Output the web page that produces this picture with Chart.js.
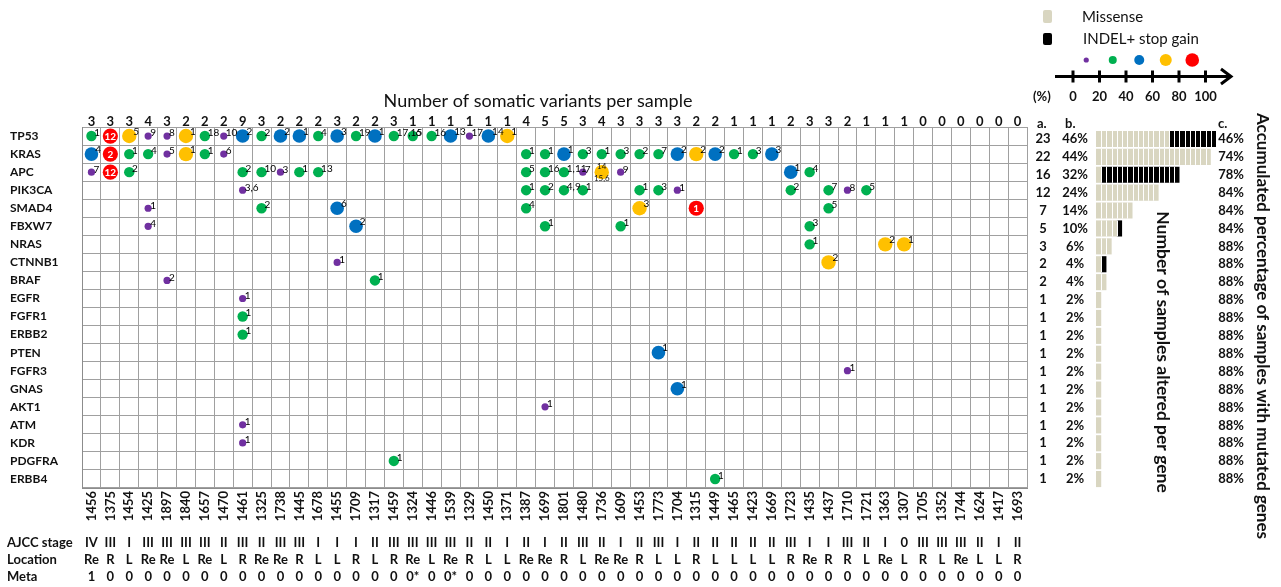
<!DOCTYPE html>
<html>
<head>
<meta charset="utf-8">
<title>Somatic variants per sample</title>
<script src="https://cdn.jsdelivr.net/npm/chart.js@4.4.1/dist/chart.umd.min.js"></script>
<style>
  html, body { margin: 0; padding: 0; background: #fff; }
  #wrap { position: relative; width: 1281px; height: 587px; }
  #wrap canvas { position: absolute; left: 0; top: 0; }
</style>
</head>
<body>
<div id="wrap">
  <canvas id="grid" width="1281" height="587"></canvas>
  <canvas id="bars" width="1281" height="587"></canvas>
</div>
<script>
const FONT = 'Lato, "Open Sans", sans-serif';

const genes = ['TP53', 'KRAS', 'APC', 'PIK3CA', 'SMAD4', 'FBXW7', 'NRAS', 'CTNNB1', 'BRAF', 'EGFR',
  'FGFR1', 'ERBB2', 'PTEN', 'FGFR3', 'GNAS', 'AKT1', 'ATM', 'KDR', 'PDGFRA', 'ERBB4'];

const samples = ['1456', '1375', '1454', '1425', '1897', '1840', '1657', '1470', '1461', '1325',
  '1738', '1445', '1678', '1455', '1709', '1317', '1459', '1324', '1446', '1539',
  '1329', '1450', '1371', '1387', '1699', '1801', '1480', '1736', '1609', '1453',
  '1773', '1704', '1315', '1449', '1465', '1423', '1669', '1723', '1435', '1437',
  '1710', '1721', '1363', '1307', '1705', '1352', '1744', '1624', '1417', '1693'];

const variantsPerSample = [3, 3, 3, 4, 3, 2, 2, 2, 9, 3, 2, 2, 2, 3, 2, 2, 3, 1, 1, 1,
  1, 1, 1, 4, 5, 5, 3, 4, 3, 3, 3, 3, 2, 2, 1, 1, 1, 2, 3, 3, 2, 1, 1, 1, 0, 0, 0, 0, 0, 0];

// a. / b. / c. columns
const samplesAltered = [23, 22, 16, 12, 7, 5, 3, 2, 2, 1, 1, 1, 1, 1, 1, 1, 1, 1, 1, 1];
const pctAltered = [46, 44, 32, 24, 14, 10, 6, 4, 4, 2, 2, 2, 2, 2, 2, 2, 2, 2, 2, 2];
const accumulatedPct = [46, 74, 78, 84, 84, 84, 88, 88, 88, 88, 88, 88, 88, 88, 88, 88, 88, 88, 88, 88];

// bar blocks per gene
const missense = [14, 22, 1, 12, 7, 4, 3, 1, 2, 1, 1, 1, 1, 1, 1, 1, 1, 1, 1, 1];
const indelStop = [9, 0, 15, 0, 0, 1, 0, 1, 0, 0, 0, 0, 0, 0, 0, 0, 0, 0, 0, 0];

const ajccStage = ['IV', 'III', 'I', 'III', 'III', 'III', 'III', 'II', 'III', 'II',
  'III', 'III', 'I', 'I', 'I', 'II', 'III', 'III', 'III', 'III',
  'II', 'II', 'I', 'II', 'I', 'II', 'III', 'II', 'I', 'II',
  'III', 'I', 'II', 'II', 'II', 'II', 'II', 'III', 'I', 'I',
  'III', 'II', 'I', '0', 'III', 'III', 'III', 'II', 'I', 'II'];
const tumourLocation = ['Re', 'R', 'L', 'Re', 'Re', 'L', 'Re', 'L', 'R', 'Re',
  'Re', 'R', 'L', 'L', 'R', 'L', 'R', 'Re', 'L', 'Re',
  'R', 'L', 'L', 'Re', 'Re', 'R', 'L', 'Re', 'Re', 'R',
  'L', 'L', 'R', 'L', 'L', 'L', 'L', 'R', 'Re', 'R',
  'R', 'L', 'Re', 'L', 'R', 'L', 'Re', 'L', 'L', 'R'];
const metastasis = ['1', '0', '0', '0', '0', '0', '0', '0', '0', '0',
  '0', '0', '0', '0', '0', '0', '0', '0*', '0', '0*',
  '0', '0', '0', '0', '0', '0', '0', '0', '0', '0',
  '0', '0', '0', '0', '0', '0', '0', '0', '0', '0',
  '0', '0', '0', '0', '0', '0', '0', '0', '0', '0'];

const vafTicks = ['0', '20', '40', '60', '80', '100'];

// variants per VAF class: [sample, gene, label]
const vaf0to20 = [
  ['1425', 'TP53', '9'], ['1897', 'TP53', '8'], ['1470', 'TP53', '10'], ['1329', 'TP53', '17'],
  ['1897', 'KRAS', '5'], ['1470', 'KRAS', '6'],
  ['1456', 'APC', '7'], ['1738', 'APC', '3'], ['1480', 'APC', '7'], ['1609', 'APC', '9'],
  ['1461', 'PIK3CA', '3,6'], ['1704', 'PIK3CA', '1'], ['1710', 'PIK3CA', '8'],
  ['1425', 'SMAD4', '1'], ['1425', 'FBXW7', '4'], ['1455', 'CTNNB1', '1'], ['1897', 'BRAF', '2'],
  ['1461', 'EGFR', '1'], ['1461', 'ATM', '1'], ['1461', 'KDR', '1'], ['1710', 'FGFR3', '1'],
  ['1699', 'AKT1', '1']
];
const vaf20to40 = [
  ['1456', 'TP53', '1'], ['1657', 'TP53', '18'], ['1325', 'TP53', '2'], ['1678', 'TP53', '4'],
  ['1709', 'TP53', '19'], ['1459', 'TP53', '17,15'], ['1324', 'TP53', '6'], ['1446', 'TP53', '16'],
  ['1454', 'KRAS', '1'], ['1425', 'KRAS', '4'], ['1657', 'KRAS', '1'], ['1387', 'KRAS', '1'],
  ['1699', 'KRAS', '1'], ['1480', 'KRAS', '3'], ['1736', 'KRAS', '1'], ['1609', 'KRAS', '3'],
  ['1453', 'KRAS', '2'], ['1773', 'KRAS', '7'], ['1465', 'KRAS', '1'], ['1423', 'KRAS', '3'],
  ['1454', 'APC', '2'], ['1461', 'APC', '2'], ['1325', 'APC', '10'], ['1445', 'APC', '1'],
  ['1678', 'APC', '13'], ['1387', 'APC', '5'], ['1699', 'APC', '16'], ['1801', 'APC', '1,11'],
  ['1435', 'APC', '4'],
  ['1387', 'PIK3CA', '1'], ['1699', 'PIK3CA', '2'], ['1801', 'PIK3CA', '4,9'], ['1480', 'PIK3CA', '1'],
  ['1453', 'PIK3CA', '1'], ['1773', 'PIK3CA', '3'], ['1723', 'PIK3CA', '2'], ['1437', 'PIK3CA', '7'],
  ['1721', 'PIK3CA', '5'],
  ['1325', 'SMAD4', '2'], ['1387', 'SMAD4', '4'], ['1437', 'SMAD4', '5'],
  ['1699', 'FBXW7', '1'], ['1609', 'FBXW7', '1'], ['1435', 'FBXW7', '3'],
  ['1435', 'NRAS', '1'], ['1317', 'BRAF', '1'], ['1461', 'FGFR1', '1'], ['1461', 'ERBB2', '1'],
  ['1459', 'PDGFRA', '1'], ['1449', 'ERBB4', '1']
];
const vaf40to60 = [
  ['1461', 'TP53', '2'], ['1738', 'TP53', '2'], ['1445', 'TP53', '1'], ['1455', 'TP53', '3'],
  ['1317', 'TP53', '1'], ['1539', 'TP53', '13'], ['1450', 'TP53', '14'],
  ['1456', 'KRAS', '4'], ['1801', 'KRAS', '1'], ['1704', 'KRAS', '2'], ['1449', 'KRAS', '2'],
  ['1669', 'KRAS', '3'],
  ['1723', 'APC', '1'], ['1455', 'SMAD4', '6'], ['1709', 'FBXW7', '2'],
  ['1773', 'PTEN', '1'], ['1704', 'GNAS', '1']
];
const vaf60to80 = [
  ['1454', 'TP53', '5'], ['1840', 'TP53', '1'], ['1371', 'TP53', '1'],
  ['1840', 'KRAS', '1'], ['1315', 'KRAS', '2'],
  ['1736', 'APC', '14/15,6'], ['1453', 'SMAD4', '3'],
  ['1363', 'NRAS', '2'], ['1307', 'NRAS', '1'], ['1437', 'CTNNB1', '2']
];
const vaf80to100 = [
  ['1375', 'TP53', '12'], ['1375', 'KRAS', '2'], ['1375', 'APC', '12'], ['1315', 'SMAD4', '1']
];

const PURPLE = '#7030a0', GREEN = '#00b050', BLUE = '#0070c0', YELLOW = '#ffc000', RED = '#ff0000';
const BEIGE = '#d9d6c1';
const GRID = '#a0a0a0';

function toPoints(list) {
  return list.map(([s, g, n]) => ({ x: s, y: g, n }));
}

function makeSet(label, list, color, radius, inside) {
  return {
    label,
    data: toPoints(list),
    pointRadius: radius,
    pointHoverRadius: radius,
    pointBackgroundColor: color,
    pointBorderWidth: 0,
    inside: !!inside,
  };
}

// numbers next to / inside the dots
const dotLabels = {
  id: 'dotLabels',
  afterDatasetsDraw(chart) {
    const ctx = chart.ctx;
    chart.data.datasets.forEach((ds, i) => {
      const r = ds.pointRadius;
      chart.getDatasetMeta(i).data.forEach((pt, j) => {
        const txt = ds.data[j].n;
        ctx.save();
        ctx.textBaseline = 'middle';
        if (ds.inside) {
          ctx.fillStyle = '#fff';
          ctx.font = `bold 10px ${FONT}`;
          ctx.textAlign = 'center';
          ctx.fillText(txt, pt.x, pt.y + 0.5);
        } else if (txt.indexOf('/') >= 0) {
          const parts = txt.split('/');
          ctx.fillStyle = '#111';
          ctx.font = `8px ${FONT}`;
          ctx.textAlign = 'center';
          ctx.fillText(parts[0], pt.x, pt.y - 5.5);
          ctx.fillText(parts[1], pt.x, pt.y + 6.5);
        } else {
          ctx.fillStyle = '#000';
          ctx.font = `10px ${FONT}`;
          ctx.textAlign = 'left';
          ctx.fillText(txt, pt.x + r * 0.55, pt.y - r * 0.5 - 1);
        }
        ctx.restore();
      });
    });
  }
};

// title, sample table, legend
const decor = {
  id: 'decor',
  afterDraw(chart) {
    const ctx = chart.ctx;
    const x = chart.scales.x;
    ctx.save();
    ctx.fillStyle = '#111';
    ctx.textBaseline = 'middle';

    ctx.font = `18px ${FONT}`;
    ctx.textAlign = 'center';
    ctx.fillText('Number of somatic variants per sample', 538, 101);

    const rows = [['AJCC stage', ajccStage, 543], ['Location', tumourLocation, 560], ['Meta', metastasis, 577]];
    rows.forEach(([name, vals, y]) => {
      ctx.font = `bold 13px ${FONT}`;
      ctx.textAlign = 'left';
      ctx.fillText(name, 7, y);
      ctx.textAlign = 'center';
      vals.forEach((v, i) => ctx.fillText(v, x.getPixelForValue(i), y));
    });

    // legend
    ctx.fillStyle = BEIGE;
    ctx.beginPath(); ctx.roundRect(1043, 10, 9, 13, 2); ctx.fill();
    ctx.fillStyle = '#000';
    ctx.beginPath(); ctx.roundRect(1043, 33, 9, 12, 2); ctx.fill();
    ctx.fillStyle = '#111';
    ctx.font = `15px ${FONT}`;
    ctx.textAlign = 'left';
    ctx.fillText('Missense', 1082, 17);
    ctx.fillText('INDEL+ stop gain', 1083, 39);

    const tickX = vafTicks.map((t, k) => 1073 + 26.5 * k);
    const dotCols = [PURPLE, GREEN, BLUE, YELLOW, RED];
    const dotR = [2.6, 4, 5, 6, 6.8];
    dotCols.forEach((c, k) => {
      ctx.fillStyle = c;
      ctx.beginPath();
      ctx.arc((tickX[k] + tickX[k + 1]) / 2, 60, dotR[k], 0, Math.PI * 2);
      ctx.fill();
    });

    ctx.strokeStyle = '#000';
    ctx.lineWidth = 3;
    ctx.beginPath();
    ctx.moveTo(1055, 76.5); ctx.lineTo(1231, 76.5);
    ctx.moveTo(1221, 69); ctx.lineTo(1231, 76.5); ctx.lineTo(1221, 84);
    tickX.forEach(tx => { ctx.moveTo(tx, 70.5); ctx.lineTo(tx, 82.5); });
    ctx.stroke();

    ctx.fillStyle = '#111';
    ctx.font = `bold 13px ${FONT}`;
    ctx.textAlign = 'left';
    ctx.fillText('(%)', 1033, 97);
    ctx.textAlign = 'center';
    vafTicks.forEach((t, k) => ctx.fillText(t, tickX[k], 97));
    ctx.restore();
  }
};

new Chart(document.getElementById('grid'), {
  type: 'scatter',
  data: {
    datasets: [
      makeSet('0-20%', vaf0to20, PURPLE, 3.6),
      makeSet('20-40%', vaf20to40, GREEN, 5.2),
      makeSet('40-60%', vaf40to60, BLUE, 6.8),
      makeSet('60-80%', vaf60to80, YELLOW, 7.2),
      makeSet('80-100%', vaf80to100, RED, 7.6, true),
    ]
  },
  options: {
    responsive: false,
    animation: false,
    layout: { padding: { left: 10, right: 254, top: 0, bottom: 0 } },
    plugins: { legend: { display: false }, tooltip: { enabled: false } },
    scales: {
      x: {
        type: 'category',
        labels: samples,
        offset: true,
        position: 'bottom',
        grid: { offset: true, color: GRID, drawTicks: false },
        border: { color: '#8c8c8c' },
        ticks: {
          autoSkip: false, minRotation: 90, maxRotation: 90, padding: 3,
          color: '#111', font: { family: FONT, size: 13, weight: 'bold' }
        },
        afterFit: s => { s.height = 99; }
      },
      x2: {
        type: 'category',
        labels: variantsPerSample.map(String),
        offset: true,
        position: 'top',
        grid: { display: false, drawTicks: false },
        border: { display: false },
        ticks: {
          autoSkip: false, maxRotation: 0, padding: -3,
          color: '#111', font: { family: FONT, size: 13, weight: 'bold' }
        },
        afterFit: s => { s.height = 127; }
      },
      y: {
        type: 'category',
        labels: genes,
        offset: true,
        grid: { offset: true, color: GRID, drawTicks: false },
        border: { color: '#8c8c8c' },
        ticks: {
          autoSkip: false, crossAlign: 'far', padding: 0,
          color: '#111', font: { family: FONT, size: 12, weight: 'bold' }
        },
        afterFit: s => { s.width = 72; }
      }
    }
  },
  plugins: [dotLabels, decor]
});

// white separators between the sample blocks of each bar
const blockLines = {
  id: 'blockLines',
  afterDatasetsDraw(chart) {
    const ctx = chart.ctx, xs = chart.scales.x;
    const bar = chart.getDatasetMeta(0).data;
    ctx.save();
    ctx.strokeStyle = '#fff';
    ctx.lineWidth = 1;
    bar.forEach((b, i) => {
      const total = missense[i] + indelStop[i];
      const h = b.height;
      for (let k = 1; k < total; k++) {
        const px = Math.round(xs.getPixelForValue(k)) + 0.5;
        ctx.beginPath();
        ctx.moveTo(px, b.y - h / 2);
        ctx.lineTo(px, b.y + h / 2);
        ctx.stroke();
      }
    });
    ctx.restore();
  }
};

// a. b. c. columns and rotated captions
const geneStats = {
  id: 'geneStats',
  afterDraw(chart) {
    const ctx = chart.ctx, ys = chart.scales.y;
    ctx.save();
    ctx.fillStyle = '#111';
    ctx.textBaseline = 'middle';
    ctx.font = `bold 13px ${FONT}`;
    ctx.textAlign = 'left';
    ctx.fillText('a.', 1037, 124);
    ctx.fillText('b.', 1065, 124);
    ctx.fillText('c.', 1218, 124);
    ctx.font = `bold 13px ${FONT}`;
    ctx.textAlign = 'center';
    genes.forEach((g, i) => {
      const y = ys.getPixelForValue(i);
      ctx.fillText(String(samplesAltered[i]), 1043, y);
      ctx.fillText(pctAltered[i] + '%', 1075, y);
      ctx.fillText(accumulatedPct[i] + '%', 1231, y);
    });
    ctx.font = `bold 17.5px ${FONT}`;
    ctx.translate(1163, 352);
    ctx.rotate(Math.PI / 2);
    ctx.fillText('Number of samples altered per gene', 0, 0);
    ctx.rotate(-Math.PI / 2);
    ctx.translate(1262 - 1163, 326 - 352);
    ctx.rotate(Math.PI / 2);
    ctx.font = `bold 17px ${FONT}`;
    ctx.fillText('Accumulated percentage of samples with mutated genes', 0, 0);
    ctx.restore();
  }
};

new Chart(document.getElementById('bars'), {
  type: 'bar',
  data: {
    labels: genes,
    datasets: [
      { label: 'Missense', data: missense, backgroundColor: BEIGE },
      { label: 'INDEL+ stop gain', data: indelStop, backgroundColor: '#000' }
    ]
  },
  options: {
    indexAxis: 'y',
    responsive: false,
    animation: false,
    layout: { padding: { left: 1096, right: 65, top: 130, bottom: 99 } },
    datasets: { bar: { barPercentage: 0.9, categoryPercentage: 1 } },
    scales: {
      x: { display: false, stacked: true, min: 0, max: 23 },
      y: { display: false, stacked: true }
    },
    plugins: { legend: { display: false }, tooltip: { enabled: false } }
  },
  plugins: [blockLines, geneStats]
});
</script>
</body>
</html>
